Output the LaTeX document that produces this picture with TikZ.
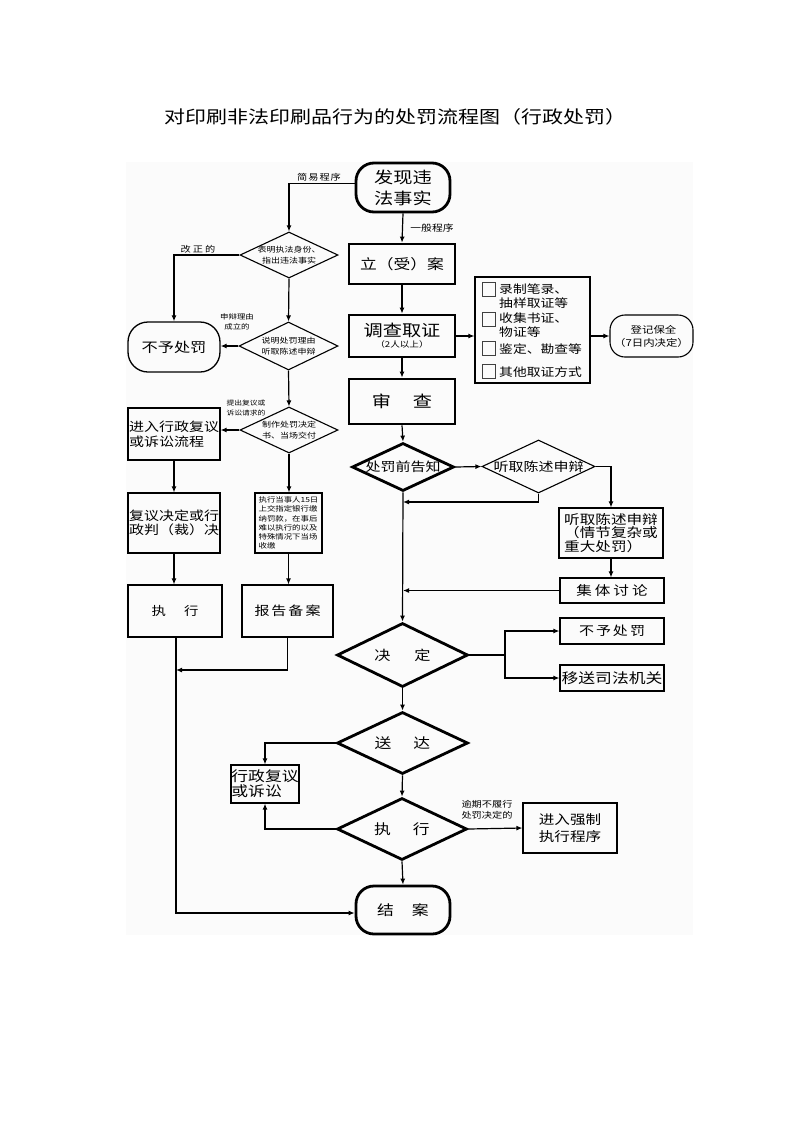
\documentclass[tikz,border=0pt]{standalone}
\usepackage{fontspec}
\setmainfont[FakeStretch=1.2]{Noto Sans CJK SC}
\usetikzlibrary{shapes.geometric,arrows.meta}
\newcommand\fsz[2]{\fontsize{#1}{#2}\selectfont}
\tikzset{
  lab/.style={inner sep=0pt, align=center},
  thinbox/.style={draw, line width=1.1pt, rectangle, inner sep=0pt, align=center},
  thickbox/.style={draw, line width=2.8pt, rectangle, inner sep=0pt, align=center},
  dia/.style={draw, diamond, inner sep=0pt, line width=1.1pt},
  thickdia/.style={dia, line width=2.8pt},
  cbox/.style={draw=black!75, line width=0.7pt, rectangle, inner sep=0pt, minimum width=13pt, minimum height=14pt},
  arr/.style={line width=1.2pt, -{Latex[length=6pt,width=5pt]}},
  ln/.style={line width=1.2pt},
}
\begin{document}
\begin{tikzpicture}[x=1pt,y=-1pt]
\useasboundingbox (0,0) rectangle (793,1122);
\fill[white] (0,0) rectangle (793,1122);
\fill[black!1.5] (126,162) rectangle (693,935);

\node[lab, font=\fsz{17.5}{20}] (title) at (395,117) {对印刷非法印刷品行为的处罚流程图（行政处罚）};

% right column
\node[thickbox, rounded corners=18pt, minimum width=94pt, minimum height=49pt, font=\fsz{16}{21}] (fx) at (403,187.5) {发现违\\法事实};
\node[thickbox, minimum width=106pt, minimum height=40pt, font=\fsz{14}{16}] (la) at (402,264) {立（受）案};
\node[thickbox, minimum width=106pt, minimum height=42pt] (dc) at (402,336) {{\fsz{16}{18}调查取证}\\[-1pt]{\fsz{8}{9}（2人以上）}};
\node[thickbox, minimum width=106pt, minimum height=45pt, font=\fsz{16}{18}] (sc) at (402,401.5) {审\hspace{22pt}查};

\node[thinbox, minimum width=115pt, minimum height=106pt] (ev) at (532.5,330) {};
\node[cbox] (cb1) at (488.5,289) {};
\node[cbox] (cb2) at (488.5,319) {};
\node[cbox] (cb3) at (488.5,348.5) {};
\node[cbox] (cb4) at (488.5,371.5) {};
\node[lab, anchor=west, align=left, font=\fsz{11.5}{14}] (e1) at (499,296) {录制笔录、\\抽样取证等};
\node[lab, anchor=west, align=left, font=\fsz{11.5}{14}] (e2) at (499,325) {收集书证、\\物证等};
\node[lab, anchor=west, align=left, font=\fsz{11.5}{14}] (e3) at (499,349) {鉴定、勘查等};
\node[lab, anchor=west, align=left, font=\fsz{11.5}{14}] (e4) at (499,372) {其他取证方式};
\node[thinbox, rounded corners=15pt, minimum width=83pt, minimum height=42pt, font=\fsz{9.5}{13}] (dj) at (651.5,336) {\hspace{4pt}登记保全\\（7日内决定）};

\node[thickdia, minimum width=102pt, minimum height=48pt, label={[lab,font=\fsz{12.5}{14}]center:处罚前告知}] (gz) at (403,467) {};
\node[dia, minimum width=113pt, minimum height=53pt, label={[lab,font=\fsz{12.5}{14}]center:听取陈述申辩}] (tq) at (538.5,466.5) {};
\node[thinbox, minimum width=104pt, minimum height=50pt, align=left, font=\fsz{13}{13.5}] (sb) at (611,533) {听取陈述申辩\\（情节复杂或\\重大处罚）};
\node[thinbox, minimum width=104pt, minimum height=25pt, font=\fsz{13}{15}] (jt) at (612,590.5) {集\hspace{3pt}体\hspace{3pt}讨\hspace{3pt}论};
\coordinate (m1) at (403,502);
\coordinate (m2) at (403,590);

\node[thickdia, minimum width=131pt, minimum height=64pt, label={[lab,font=\fsz{13.5}{15}]center:决\hspace{24pt}定}] (jd) at (402.5,655) {};
\node[thinbox, minimum width=104pt, minimum height=26pt, font=\fsz{12.5}{15}] (bp) at (612,631) {不\hspace{2pt}予\hspace{2pt}处\hspace{2pt}罚};
\node[thinbox, minimum width=104pt, minimum height=26pt, font=\fsz{14}{16}] (ys) at (612,678) {移送司法机关};
\coordinate (br) at (505,655);

\node[thickdia, minimum width=131pt, minimum height=62pt, label={[lab,font=\fsz{14}{15}]center:送\hspace{22pt}达}] (sd) at (402.5,743) {};
\node[thinbox, minimum width=68pt, minimum height=38pt, align=left, font=\fsz{14}{15}] (xz) at (265,784) {行政复议\\或诉讼};
\node[thickdia, minimum width=130pt, minimum height=62pt, label={[lab,font=\fsz{14}{15}]center:执\hspace{22pt}行}] (zx2) at (402,829) {};
\node[lab, font=\fsz{8.5}{10.5}] (yq) at (487,810) {逾期不履行\\处罚决定的};
\node[thinbox, minimum width=94pt, minimum height=50pt, font=\fsz{13}{17}] (qz) at (570,828) {进入强制\\执行程序};
\node[thickbox, rounded corners=18pt, minimum width=94pt, minimum height=48pt, font=\fsz{14}{16}] (ja) at (403,910) {结\hspace{18pt}案};

% left column
\node[lab, font=\fsz{8.5}{10}] (jy) at (319,177) {简\hspace{1pt}易\hspace{1pt}程\hspace{1pt}序};
\node[lab, font=\fsz{9}{10}] (yb) at (432,228) {一般程序};
\node[dia, minimum width=98pt, minimum height=46pt, label={[lab,font=\fsz{7.5}{11}]center:{表明执法身份、\\指出违法事实}}] (d1) at (289,255) {};
\node[lab, font=\fsz{8.5}{10}] (gzd) at (198,249) {改\hspace{2pt}正\hspace{2pt}的};
\node[thinbox, line width=1.3pt, rounded corners=20pt, minimum width=92pt, minimum height=50pt, font=\fsz{13.5}{15}] (bu) at (174,347) {不予处罚};
\node[dia, minimum width=99pt, minimum height=48pt, label={[lab,font=\fsz{7.5}{11}]center:{说明处罚理由\\听取陈述申辩}}] (d2) at (288.5,346) {};
\node[lab, font=\fsz{7}{10}] (sbl) at (237,322) {申辩理由\\成立的};
\node[dia, minimum width=98pt, minimum height=46pt, label={[lab,font=\fsz{7.5}{10.5}]center:{制作处罚决定\\书、当场交付}}] (d3) at (289,430) {};
\node[lab, font=\fsz{6.5}{9.5}] (tcl) at (246,408) {提出复议或\\诉讼请求的};
\node[thinbox, minimum width=92pt, minimum height=52pt, align=left, font=\fsz{12.5}{15}] (jr) at (174,434) {进入行政复议\\或诉讼流程};
\node[thinbox, minimum width=92pt, minimum height=60pt, align=left, font=\fsz{12.5}{14}] (fy) at (174,523) {复议决定或行\\政判（裁）决};
\node[thinbox, minimum width=67pt, minimum height=60pt, align=left, font=\fsz{7}{9.3}] (ds) at (288.5,523) {执行当事人15日\\上交指定银行缴\\纳罚款，在事后\\难以执行的以及\\特殊情况下当场\\收缴};
\node[thinbox, minimum width=94pt, minimum height=52pt, font=\fsz{12}{14}] (zx) at (175,611) {执\hspace{18pt}行};
\node[thinbox, minimum width=91pt, minimum height=52pt, font=\fsz{12.5}{14}] (bg) at (287.5,611) {报\hspace{2pt}告\hspace{2pt}备\hspace{2pt}案};
\coordinate (m3) at (176,670);

% connectors right
\draw[arr] (fx.south) -- (la.north);
\draw[arr] (la.south) -- (dc.north);
\draw[arr] (dc.south) -- (sc.north);
\draw[arr] (sc.south) -- (gz.north);
\draw[arr] (dc.east) -- (dc.east -| ev.west);
\draw[arr] (ev.east |- dj.west) -- (dj.west);
\draw[arr] (gz.east) -- (tq.west);
\draw[arr] (tq.south) |- (m1);
\draw[arr] (tq.east) -| (sb.north);
\draw[arr] (sb.south) -- (sb.south |- jt.north);
\draw[arr] (jt.west) -- (jt.west -| m2);
\draw[arr] (gz.south) -- (jd.north);
\draw[ln] (jd.east) -- (br);
\draw[arr] (br) |- (bp.west);
\draw[arr] (br) |- (ys.west);
\draw[arr] (jd.south) -- (sd.north);
\draw[arr] (sd.west) -| (xz.north);
\draw[arr] (sd.south) -- (zx2.north);
\draw[arr] (zx2.west) -| (xz.south);
\draw[arr] (zx2.east) -- (qz.west);
\draw[arr] (zx2.south) -- (ja.north);

% connectors left
\draw[arr] ([yshift=4pt]fx.west) -| (d1.north);
\draw[arr] (d1.west) -| (bu.north);
\draw[arr] (d1.south) -- (d2.north);
\draw[arr] (d2.west) -- (d2.west -| bu.east);
\draw[arr] (d2.south) -- (d3.north);
\draw[arr] (d3.west) -- (d3.west -| jr.east);
\draw[arr] (jr.south) -- (fy.north);
\draw[arr] (fy.south) -- (fy.south |- zx.north);
\draw[arr] (d3.south) -- (d3.south |- ds.north);
\draw[arr] (ds.south) -- (ds.south |- bg.north);
\draw[arr] (bg.south) |- (m3);
\draw[arr] ([xshift=1pt]zx.south) |- ([yshift=-3pt]ja.west);
\end{tikzpicture}
\end{document}
